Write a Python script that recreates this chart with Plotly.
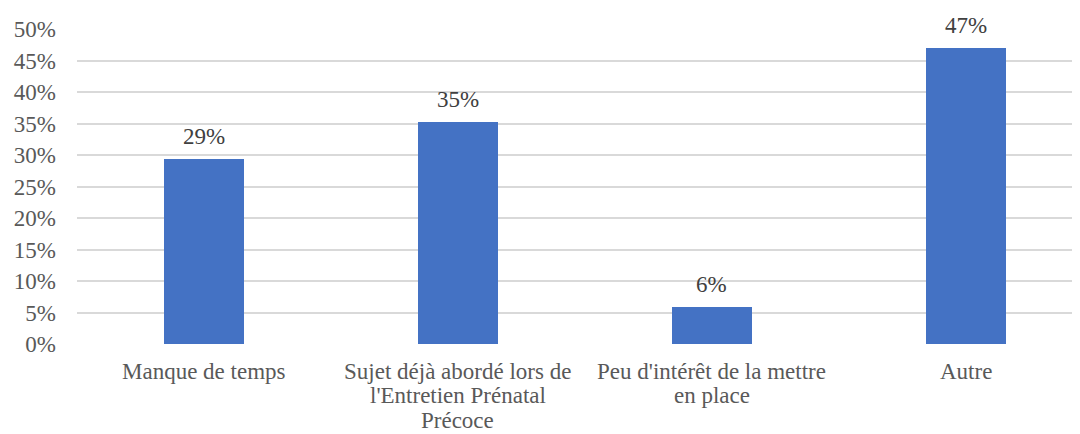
import plotly.graph_objects as go

categories = [
    "Manque de temps",
    "Sujet déjà abordé lors de<br>l'Entretien Prénatal<br>Précoce",
    "Peu d'intérêt de la mettre<br>en place",
    "Autre",
]
values = [5/17, 6/17, 1/17, 8/17]
labels = ["29%", "35%", "6%", "47%"]
y_ticks = [i * 0.05 for i in range(11)]
y_tick_labels = [f"{i*5}%" for i in range(11)]

FONT = "Times New Roman, Liberation Serif, DejaVu Serif, serif"

fig = go.Figure(go.Bar(
    x=list(range(len(categories))),
    y=values,
    marker=dict(color="#4472C4", line=dict(width=0)),
    width=0.315,
    hoverinfo="skip",
))

# value labels above bars
for i, (v, lab) in enumerate(zip(values, labels)):
    fig.add_annotation(
        x=i, y=v, xref="x", yref="y",
        text=lab, showarrow=False,
        yanchor="bottom", yshift=8,
        font=dict(family=FONT, size=23, color="#404040"),
    )

# category labels, one annotation per line for tighter line spacing
LINE_GAP = 24.5
for i, cat in enumerate(categories):
    for k, line in enumerate(cat.split("<br>")):
        fig.add_annotation(
            x=i, y=0, xref="x", yref="y",
            text=line, showarrow=False,
            yanchor="middle", yshift=-(27 + k * LINE_GAP),
            font=dict(family=FONT, size=23, color="#595959"),
        )

# page body has an 8px default margin; compensate in figure size / margins
fig.update_layout(
    width=1072, height=426,
    margin=dict(l=69, r=0, t=21, b=90),
    plot_bgcolor="white", paper_bgcolor="white",
    showlegend=False,
    font=dict(family=FONT, size=23, color="#595959"),
    bargap=0,
)
fig.update_xaxes(
    range=[-0.5, 3.449],
    showticklabels=False,
    showgrid=False, zeroline=False, showline=False,
    ticks="", automargin=False,
)
fig.update_yaxes(
    range=[0, 0.5],
    tickmode="array",
    tickvals=y_ticks,
    ticktext=y_tick_labels,
    showgrid=True, gridcolor="#D9D9D9", gridwidth=1.5,
    zeroline=False, showline=False,
    ticks="", ticklabelstandoff=20, automargin=False,
    tickfont=dict(family=FONT, size=23, color="#595959"),
)

fig.write_html("out.html")
